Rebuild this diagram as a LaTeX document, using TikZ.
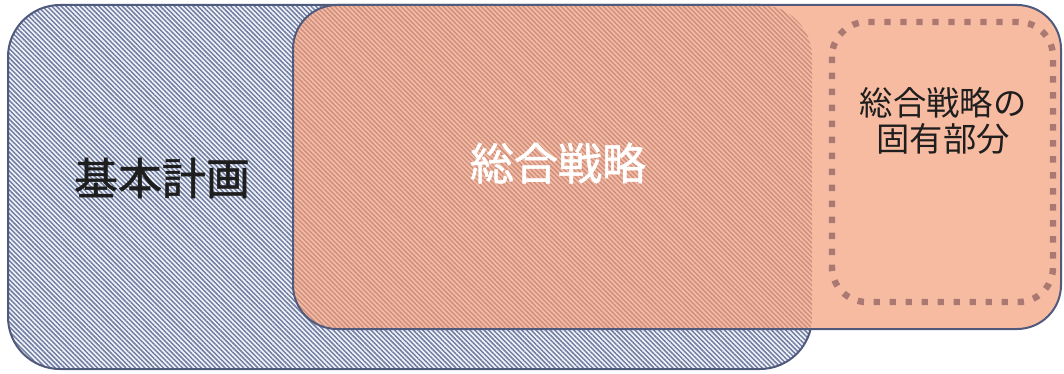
\documentclass[tikz,border=0pt]{standalone}
\usepackage{fontspec}
\newfontfamily\jp{Noto Sans CJK JP}
\newfontfamily\jpb{Noto Sans CJK JP}[FakeBold=1.2]
\usetikzlibrary{patterns.meta}
\definecolor{bluestripe}{RGB}{112,124,160}
\definecolor{bluebg}{RGB}{240,243,250}
\definecolor{peach}{RGB}{247,187,161}
\definecolor{peachstripe}{RGB}{204,144,130}
\definecolor{edgec}{RGB}{80,90,125}
\definecolor{dotc}{RGB}{170,122,114}
\definecolor{txt}{RGB}{30,30,30}
\tikzset{
  hatch/.style={pattern={Lines[angle=-45,distance=2.5pt,line width=1.1pt]}},
  bigtext/.style={font=\jpb\fontsize{33}{38}\selectfont},
  smalltext/.style={font=\jp\fontsize{25}{27.5}\selectfont, align=center, text=txt},
  border/.style={draw=edgec, line width=1.5pt},
}
\begin{document}
\begin{tikzpicture}[x=0.75pt,y=-0.75pt]
\useasboundingbox (0,0) rectangle (1064,374);
% blue box (基本計画)
\path[fill=bluebg, rounded corners=39pt] (8,5) rectangle (812,369);
\path[hatch, pattern color=bluestripe, rounded corners=39pt] (8,5) rectangle (812,369);
\path[border, rounded corners=39pt] (8,5) rectangle (812,369);
% peach box (総合戦略)
\path[fill=peach, rounded corners=33pt] (293,5) rectangle (1061,329);
\begin{scope}
  \clip[rounded corners=39pt] (8,5) rectangle (812,369);
  \path[hatch, pattern color=peachstripe, rounded corners=33pt] (293,5) rectangle (1061,329);
\end{scope}
\path[border, rounded corners=33pt] (293,5) rectangle (1061,329);
% dotted box
\draw[dotc, line width=4.8pt, dash pattern=on 4.8pt off 7.2pt, rounded corners=26pt] (832,22) rectangle (1053,302);
% texts
\node[bigtext, text=txt] (kihon) at (162,178) {基本計画};
\node[bigtext, text=white] (sogo) at (558,163) {総合戦略};
\node[smalltext] (koyu) at (943,121) {総合戦略の\\固有部分};
\end{tikzpicture}
\end{document}
